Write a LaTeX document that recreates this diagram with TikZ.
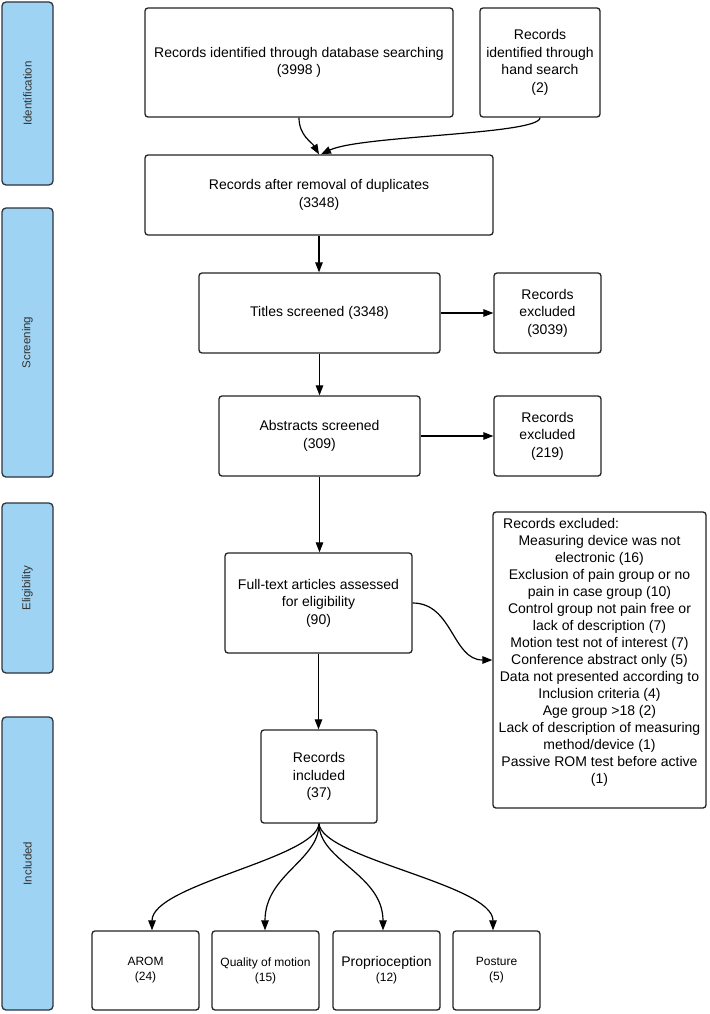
\documentclass[tikz,border=0pt]{standalone}
\usepackage{fontspec}
\setmainfont{Liberation Sans}
\usetikzlibrary{arrows.meta}
\definecolor{barblue}{RGB}{158,211,243}
\definecolor{bardraw}{RGB}{45,52,60}
\definecolor{boxdraw}{RGB}{35,35,35}
\definecolor{labeltext}{RGB}{50,50,50}
\tikzset{
  box/.style={draw=boxdraw, line width=1.3pt, rounded corners=3pt, fill=white,
    align=center, inner sep=0pt, font=\fontsize{14}{17.5}\selectfont},
  smallbox/.style={box, font=\fontsize{12}{15}\selectfont},
  bar/.style={draw=bardraw, fill=barblue, line width=1.3pt, rounded corners=4pt,
    inner sep=0pt, rotate=90, minimum height=51pt, text=labeltext,
    font=\fontsize{11.5}{13}\selectfont},
  listtext/.style={inner sep=0pt, align=center, font=\fontsize{14}{17}\selectfont},
  arr/.style={-{Triangle[length=10pt,width=7.5pt]}, line width=1.2pt, draw=black},
}
\begin{document}
\begin{tikzpicture}[x=1pt,y=-1pt]
\useasboundingbox (0,0) rectangle (709,1014);

% phase bars
\node[bar, minimum width=183pt] (barid) at (27.5,93.5) {Identification};
\node[bar, minimum width=269pt] (barsc) at (27.5,342.5) {Screening};
\node[bar, minimum width=170pt] (barel) at (27.5,588) {Eligibility};
\node[bar, minimum width=293pt] (barin) at (27.5,863.5) {Included};

% boxes
\node[box, minimum width=308pt, minimum height=109pt] (A) at (299,62.5)
  {Records identified through database searching\\(3998 )};
\node[box, minimum width=120pt, minimum height=109pt] (B) at (540,62.5)
  {Records\\identified through\\hand search\\(2)};
\node[box, minimum width=348pt, minimum height=80pt] (C) at (319,195)
  {Records after removal of duplicates\\(3348)};
\node[box, minimum width=241pt, minimum height=80pt] (D) at (319.5,313)
  {Titles screened (3348)};
\node[box, minimum width=107pt, minimum height=80pt] (E) at (547.5,313)
  {Records\\excluded\\(3039)};
\node[box, minimum width=201pt, minimum height=80pt] (F) at (319.5,436)
  {Abstracts screened\\(309)};
\node[box, minimum width=107pt, minimum height=80pt] (G) at (547.5,436)
  {Records\\excluded\\(219)};
\node[box, minimum width=187pt, minimum height=100pt] (H) at (318.5,603)
  {Full-text articles assessed\\for eligibility\\(90)};
\node[box, minimum width=213pt, minimum height=296pt] (I) at (599.5,660) {};
\node[inner sep=0pt, anchor=base west, font=\fontsize{14}{17}\selectfont] (Ihead) at (503,528)
  {Records excluded:};
\node[listtext, anchor=north] (Ilist) at (599.5,534.8)
  {Measuring device was not\\electronic (16)\\Exclusion of pain group or no\\pain in case group (10)\\Control group not pain free or\\lack of description (7)\\Motion test not of interest (7)\\Conference abstract only (5)\\Data not presented according to\\Inclusion criteria (4)\\Age group >18 (2)\\Lack of description of measuring\\method/device (1)\\Passive ROM test before active\\(1)};
\node[box, minimum width=116pt, minimum height=93pt] (J) at (319,776.5)
  {Records\\included\\(37)};

\node[smallbox, minimum width=107pt, minimum height=79pt] (arom) at (145.5,970.5)
  {AROM\\(24)};
\node[smallbox, minimum width=107pt, minimum height=79pt] (qual) at (265.5,970.5)
  {Quality of motion\\(15)};
\node[smallbox, minimum width=107pt, minimum height=79pt] (prop) at (386.5,970.5)
  {{\fontsize{14}{15}\selectfont Proprioception}\\(12)};
\node[smallbox, minimum width=87pt, minimum height=79pt] (post) at (496.5,970.5)
  {Posture\\(5)};

% connectors
\draw[arr] (A.south) .. controls +(0,18) and +(-7,-12) .. (C.north);
\draw[arr] (B.south) .. controls +(0,17) and +(39,-19) .. ([xshift=2pt]C.north);
\draw[arr] (C.south) -- (C.south |- D.north);
\draw[arr] (D.east) -- (E.west);
\draw[arr] (D.south) -- (F.north);
\draw[arr] (F.east) -- (G.west);
\draw[arr] (F.south) -- (F.south |- H.north);
\draw[arr] (H.east) .. controls +(40,0) and +(-40,0) .. (I.west);
\draw[arr] (H.south) -- (H.south |- J.north);
\draw[arr] (J.south) .. controls +(-3,35) and +(0,-46) .. ([xshift=6.5pt]arom.north);
\draw[arr] (J.south) .. controls +(0,37) and +(0,-56) .. ([xshift=-0.5pt]qual.north);
\draw[arr] (J.south) .. controls +(0,37) and +(0,-56) .. ([xshift=-3.5pt]prop.north);
\draw[arr] (J.south) .. controls +(3,35) and +(0,-46) .. ([xshift=-3.5pt]post.north);
\end{tikzpicture}
\end{document}
